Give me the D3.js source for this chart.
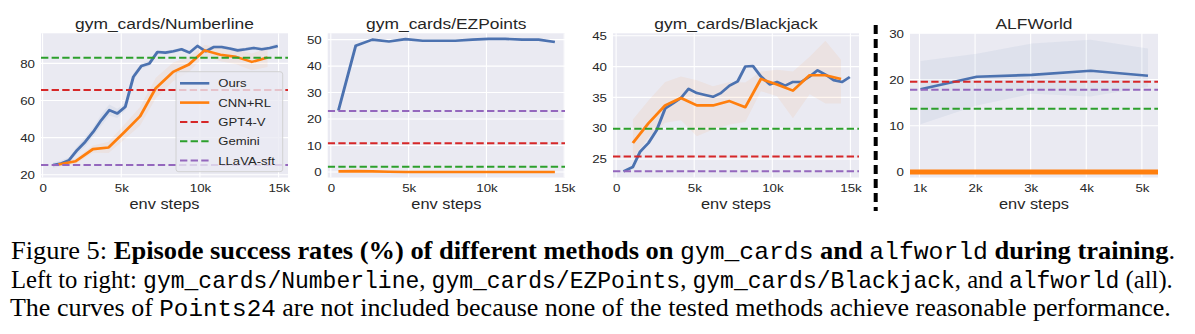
<!DOCTYPE html>
<html>
<head>
<meta charset="utf-8">
<script src="https://cdn.jsdelivr.net/npm/d3@7"></script>
<style>
  body { margin: 0; background: #fff; }
  svg { display: block; }
</style>
</head>
<body>
<svg id="chart" width="1195" height="334"></svg>
<script>
// ---- data (steps in thousands, success rate in %) ----
const panelTitles = ["gym_cards/Numberline", "gym_cards/EZPoints", "gym_cards/Blackjack", "ALFWorld"]
const methods = ["Ours", "CNN+RL", "GPT4-V", "Gemini", "LLaVA-sft"]

const numberlineOursSteps = [0.67, 1.18, 1.69, 2.2, 2.71, 3.22, 3.73, 4.24, 4.75, 5.26, 5.77, 6.28, 6.79, 7.3, 7.81,
  8.32, 8.83, 9.34, 9.85, 10.36, 10.87, 11.38, 11.89, 12.4, 12.91, 13.42, 13.93, 14.44, 14.95]
const numberlineOurs = [25.2, 26.1, 27.9, 33.3, 37.7, 43.1, 49.4, 54.8, 53.0, 56.6, 72.7, 78.6, 79.9, 86.1, 85.8,
  86.5, 87.6, 85.8, 89.4, 86.5, 88.8, 88.8, 88.0, 87.0, 87.6, 88.3, 87.6, 88.3, 89.4]
const numberlineOursStd = [1.5, 1.5, 1.5, 2, 2.5, 2.5, 3, 3, 2.5, 2, 2, 1.5, 1.5, 1, 1,
  1, 1, 1, 1, 1, 1, 1, 1, 1, 1, 1, 1, 1, 1.5]
const numberlineCnnSteps = [1.0, 2.1, 3.2, 4.2, 5.2, 6.2, 7.2, 8.3, 9.3, 10.3, 11.3, 12.3, 13.3, 14.3]
const numberlineCnn = [25.5, 27.3, 33.8, 34.7, 43.0, 51.5, 66.7, 75.4, 79.4, 87.0, 84.6, 83.5, 80.8, 83.1]
const numberlineCnnStd = [1, 1.5, 2, 3, 4, 5, 5.5, 5, 4, 3, 3.5, 4, 4.5, 5]

const ezpointsSteps = [0.49, 1.6, 2.67, 3.74, 4.8, 5.9, 6.95, 8.0, 9.1, 10.15, 11.2, 12.3, 13.35, 14.4]
const ezpointsOurs = [23.2, 47.7, 50.0, 49.3, 50.2, 49.6, 49.6, 49.6, 50.0, 50.3, 50.3, 50.0, 50.0, 49.1]
const ezpointsCnn = [0.2, 0.3, 0.2, 0.1, 0, 0, 0, 0, 0, 0, 0, 0, 0, 0]

const blackjackOursSteps = [0.47, 1.07, 1.54, 2.07, 2.6, 3.14, 3.68, 4.15, 4.64, 5.17, 5.7, 6.2, 6.7, 7.26, 7.78,
  8.27, 8.76, 9.27, 9.83, 10.3, 10.83, 11.32, 11.84, 12.39, 12.9, 13.4, 13.93, 14.47, 14.96]
const blackjackOurs = [23.0, 23.7, 26.2, 27.6, 29.7, 33.2, 34.1, 34.9, 36.4, 35.7, 35.4, 35.1, 35.7, 36.9, 37.6,
  40.0, 40.1, 38.4, 37.1, 37.5, 36.9, 37.5, 37.5, 38.4, 39.4, 38.7, 37.8, 37.5, 38.3]
const blackjackCnnSteps = [1.07, 2.07, 3.14, 4.15, 5.17, 6.2, 7.26, 8.27, 9.27, 10.3, 11.32, 12.39, 13.4, 14.4]
const blackjackCnn = [27.6, 30.8, 33.7, 34.9, 33.7, 33.7, 34.4, 33.4, 38.0, 37.1, 36.1, 38.6, 38.6, 38.0]
const blackjackCnnHi = [31.4, 34.5, 37.5, 38.4, 37.8, 36.8, 37.5, 37.4, 39.2, 39.5, 39.2, 41.6, 44.2, 41.1]
const blackjackCnnLo = [25.0, 28.5, 30.9, 31.3, 28.7, 29.8, 30.6, 31.0, 36.0, 35.2, 31.6, 35.5, 34.0, 34.0]

const alfworldSteps = [1.02, 2.03, 3.02, 4.08, 5.11]
const alfworldOurs = [17.9, 20.6, 21.0, 21.9, 20.8]
const alfworldOursHi = [24.0, 25.6, 27.8, 28.6, 26.7]
const alfworldOursLo = [10.3, 14.4, 16.9, 16.3, 18.4]
const alfworldCnn = 0

// reference methods, one value per panel
const gpt4vScores = [65.6, 10.8, 25.4, 19.5]
const geminiScores = [83.0, 2.0, 29.9, 13.7]
const llavaScores = [25.2, 23.0, 23.0, 17.8]

const xTickValues = [[0, 5, 10, 15], [0, 5, 10, 15], [0, 5, 10, 15], [1, 2, 3, 4, 5]]
const yTickValues = [[20, 40, 60, 80], [0, 10, 20, 30, 40, 50], [25, 30, 35, 40, 45], [0, 10, 20, 30]]

// ---- styling ----
const S = 1.13 // the original figure is stretched horizontally
const colors = { "Ours": "#4c72b0", "CNN+RL": "#ff7f0e", "GPT4-V": "#d62728", "Gemini": "#2ca02c", "LLaVA-sft": "#9467bd" }
const sans = "'Liberation Sans', Arial, sans-serif"
const ink = "#262626"
const plotTop = 33.3, plotBottom = 177.5

const layout = [
  { left: 41, right: 288, xDom: [-0.1, 15.6], yDom: [18.5, 96.2] },
  { left: 327.7, right: 565, xDom: [-0.2, 15.05], yDom: [-2.1, 52.4] },
  { left: 613, right: 859, xDom: [-0.2, 15.55], yDom: [22.0, 45.4] },
  { left: 910, right: 1158, xDom: [0.83, 5.29], yDom: [-1.2, 30] }
]

function band(steps, mean, std) {
  return steps.map((s, i) => ({ x: s, y: mean[i], lo: mean[i] - std[i], hi: mean[i] + std[i] }))
}
function bandLoHi(steps, mean, lo, hi) {
  return steps.map((s, i) => ({ x: s, y: mean[i], lo: lo[i], hi: hi[i] }))
}
function plain(steps, mean) {
  return steps.map((s, i) => ({ x: s, y: mean[i] }))
}

const panelSeries = [
  [
    { name: "Ours", pts: band(numberlineOursSteps, numberlineOurs, numberlineOursStd) },
    { name: "CNN+RL", pts: band(numberlineCnnSteps, numberlineCnn, numberlineCnnStd) }
  ],
  [
    { name: "Ours", pts: plain(ezpointsSteps, ezpointsOurs) },
    { name: "CNN+RL", pts: plain(ezpointsSteps, ezpointsCnn) }
  ],
  [
    { name: "Ours", pts: plain(blackjackOursSteps, blackjackOurs) },
    { name: "CNN+RL", pts: bandLoHi(blackjackCnnSteps, blackjackCnn, blackjackCnnLo, blackjackCnnHi) }
  ],
  [
    { name: "Ours", pts: bandLoHi(alfworldSteps, alfworldOurs, alfworldOursLo, alfworldOursHi) }
  ]
]

var svg = d3.select("#chart")
var root = svg.append("g").attr("transform", "scale(" + S + ",1)")

layout.forEach((L, p) => {
  var x = d3.scaleLinear().domain(L.xDom).range([L.left / S, L.right / S])
  var y = d3.scaleLinear().domain(L.yDom).range([plotBottom, plotTop])
  var g = root.append("g")
  var x0 = x.range()[0], x1 = x.range()[1]

  g.append("clipPath").attr("id", "clip" + p)
    .append("rect")
      .attr("x", x0).attr("y", plotTop)
      .attr("width", x1 - x0).attr("height", plotBottom - plotTop)

  g.append("rect")
      .attr("x", x0).attr("y", plotTop)
      .attr("width", x1 - x0).attr("height", plotBottom - plotTop)
      .attr("fill", "#eaeaf2")

  // grid
  g.selectAll(".vgrid").data(xTickValues[p]).enter().append("line")
      .attr("x1", d => x(d)).attr("x2", d => x(d))
      .attr("y1", plotTop).attr("y2", plotBottom)
      .attr("stroke", "#fff").attr("stroke-width", 1.1 / S)
  g.selectAll(".hgrid").data(yTickValues[p]).enter().append("line")
      .attr("x1", x0).attr("x2", x1)
      .attr("y1", d => y(d)).attr("y2", d => y(d))
      .attr("stroke", "#fff").attr("stroke-width", 1.1)

  var plot = g.append("g").attr("clip-path", "url(#clip" + p + ")")

  var area = d3.area().x(d => x(d.x)).y0(d => y(d.lo)).y1(d => y(d.hi))
  var line = d3.line().x(d => x(d.x)).y(d => y(d.y))

  panelSeries[p].forEach(s => {
    if (s.pts[0].lo !== undefined) {
      plot.append("path").datum(s.pts)
          .attr("d", area)
          .attr("fill", colors[s.name]).attr("fill-opacity", s.name === "Ours" ? 0.07 : 0.065)
    }
  })
  panelSeries[p].forEach(s => {
    plot.append("path").datum(s.pts)
        .attr("d", line)
        .attr("fill", "none")
        .attr("stroke", colors[s.name]).attr("stroke-width", 2.6)
        .attr("stroke-linejoin", "round")
  })
  if (p === 3) {
    plot.append("line")
        .attr("x1", x0).attr("x2", x1)
        .attr("y1", y(alfworldCnn)).attr("y2", y(alfworldCnn))
        .attr("stroke", colors["CNN+RL"]).attr("stroke-width", 5)
  }

  // reference methods
  var refs = [["GPT4-V", gpt4vScores[p]], ["Gemini", geminiScores[p]], ["LLaVA-sft", llavaScores[p]]]
  plot.selectAll(".ref").data(refs).enter().append("line")
      .attr("x1", x0).attr("x2", x1)
      .attr("y1", d => y(d[1])).attr("y2", d => y(d[1]))
      .attr("stroke", d => colors[d[0]]).attr("stroke-width", 2)
      .attr("stroke-dasharray", "6.5,2.9")

  // axes
  var xa = g.append("g").attr("transform", "translate(0," + plotBottom + ")")
      .call(d3.axisBottom(x).tickValues(xTickValues[p]).tickSize(0).tickPadding(6.5)
        .tickFormat(d => d === 0 ? "0" : d + "k"))
  var ya = g.append("g").attr("transform", "translate(" + x0 + ",0)")
      .call(d3.axisLeft(y).tickValues(yTickValues[p]).tickSize(0).tickPadding(5.3))
  ;[xa, ya].forEach(a => {
    a.select(".domain").remove()
    a.attr("font-family", sans).attr("font-size", 11.8)
    a.selectAll("text").attr("fill", ink)
  })

  var cx = (x0 + x1) / 2
  g.append("text")
      .attr("x", cx).attr("y", 29)
      .attr("text-anchor", "middle")
      .attr("font-family", sans).attr("font-size", 15.4).attr("fill", ink)
      .text(panelTitles[p])
  g.append("text")
      .attr("x", cx).attr("y", 209)
      .attr("text-anchor", "middle")
      .attr("font-family", sans).attr("font-size", 14.5).attr("fill", ink)
      .text("env steps")

  // legend lives in the first panel
  if (p === 0) {
    var lg = g.append("g")
    lg.append("rect")
        .attr("x", 176 / S).attr("y", 71.7)
        .attr("width", (282.7 - 176) / S).attr("height", 100)
        .attr("rx", 2.5)
        .attr("fill", "#eaeaf2").attr("fill-opacity", 0.8)
        .attr("stroke", "#cccccc").attr("stroke-width", 0.8)
    methods.forEach((m, i) => {
      var ly = 83.3 + i * 19.3
      lg.append("line")
          .attr("x1", 180 / S).attr("x2", 209.3 / S)
          .attr("y1", ly).attr("y2", ly)
          .attr("stroke", colors[m]).attr("stroke-width", i < 2 ? 2.6 : 2)
          .attr("stroke-dasharray", i < 2 ? null : "6.5,2.9")
      lg.append("text")
          .attr("x", 218.3 / S).attr("y", ly).attr("dy", "0.35em")
          .attr("font-family", sans).attr("font-size", 11.6).attr("fill", ink)
          .text(m)
    })
  }
})

// dashed separator before ALFWorld
root.append("line")
    .attr("x1", 875.7 / S).attr("x2", 875.7 / S)
    .attr("y1", 25).attr("y2", 211)
    .attr("stroke", "#000").attr("stroke-width", 4 / S)
    .attr("stroke-dasharray", "9,5")

// ---- caption ----
const captionLines = [
  [["Figure 5: ", "r"], ["Episode success rates (%) of different methods on ", "b"], ["gym_cards", "m"],
   [" and ", "b"], ["alfworld", "m"], [" during training", "b"], [".", "r"]],
  [["Left to right: ", "r"], ["gym_cards/Numberline", "m"], [", ", "r"], ["gym_cards/EZPoints", "m"],
   [", ", "r"], ["gym_cards/Blackjack", "m"], [", and ", "r"], ["alfworld", "m"], [" (all).", "r"]],
  [["The curves of ", "r"], ["Points24", "m"],
   [" are not included because none of the tested methods achieve reasonable performance.", "r"]]
]
const captionBaselines = [259, 288, 316]
const captionStarts = [11, 11, 10]
const captionEnds = [1175, 1173, 1171]

captionLines.forEach((parts, i) => {
  var t = root.append("text")
      .attr("y", 0)
      .style("white-space", "pre")
      .attr("fill", "#000")
  parts.forEach(([str, kind]) => {
    t.append("tspan")
        .attr("font-family", kind === "m" ? "'Liberation Mono', 'Courier New', monospace" : "'Liberation Serif', 'Times New Roman', serif")
        .attr("font-size", kind === "m" ? 24 : 25.7)
        .attr("font-weight", kind === "b" ? "bold" : "normal")
        .text(str)
  })
  var w = t.node().getComputedTextLength()
  var target = (captionEnds[i] - captionStarts[i]) / S
  t.attr("transform", "translate(" + captionStarts[i] / S + "," + captionBaselines[i] + ") scale(" + (target / w) + ",1)")
})
</script>
</body>
</html>
